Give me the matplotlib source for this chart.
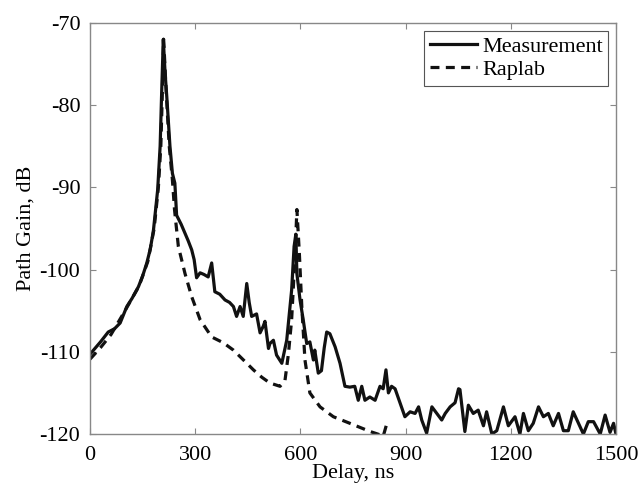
import matplotlib.pyplot as plt

# Measurement (solid)
meas_x = [0, 14, 30, 52, 70, 86, 105, 120, 138, 150, 162, 172, 181, 193, 200, 204, 209,
          214, 219, 228, 235, 242, 247, 260, 271, 280, 290, 297, 304, 314, 325, 337, 347,
          356, 370, 385, 398, 409, 418, 428, 437, 447, 454, 461, 475, 485, 494, 499, 509,
          513, 523, 532, 547, 561, 575, 582, 587, 590, 599, 608, 618, 627, 637, 641, 651,
          660, 668, 675, 684, 699, 713, 727, 741, 755, 765, 775, 784, 798, 813, 827, 836,
          844, 851, 860, 870, 884, 898, 913, 927, 937, 946, 960, 975, 989, 1003, 1013, 1027,
          1041, 1051, 1055, 1069, 1079, 1093, 1107, 1122, 1131, 1146, 1160, 1179, 1193, 1212,
          1226, 1236, 1250, 1264, 1279, 1293, 1307, 1321, 1336, 1350, 1364, 1378, 1393, 1407,
          1421, 1436, 1455, 1469, 1483, 1493, 1500]
meas_y = [-110.3, -109.6, -108.8, -107.6, -107.2, -106.5, -104.5, -103.5, -102.1, -100.8, -99.2, -97.5, -95.2, -90.3, -85.0, -79.0, -72.0,
          -76.0, -79.0, -85.0, -88.3, -89.5, -93.4, -94.5, -95.6, -96.5, -97.6, -98.8, -101.0, -100.4, -100.6, -100.9, -99.2,
          -102.7, -103.0, -103.7, -104.0, -104.5, -105.7, -104.5, -105.7, -101.7, -104.0, -105.7, -105.4, -107.7, -106.9, -106.3, -109.6,
          -109.0, -108.6, -110.4, -111.4, -108.6, -102.5, -97.2, -95.7, -100.5, -103.7, -106.1, -109.0, -108.8, -111.0, -109.8, -112.6,
          -112.3, -109.5, -107.6, -107.8, -109.4, -111.4, -114.2, -114.3, -114.2, -115.9, -114.2, -115.9, -115.5, -115.9, -114.2, -114.5,
          -112.2, -115.0, -114.2, -114.5, -116.2, -117.9, -117.3, -117.5, -116.7, -118.3, -119.9, -116.7, -117.5, -118.3, -117.5, -116.7,
          -116.2, -114.5, -114.6, -119.7, -116.5, -117.5, -117.1, -119.0, -117.3, -120.0, -119.6, -116.7, -119.0, -117.9,
          -120.0, -117.5, -119.6, -118.7, -116.7, -117.9, -117.5, -119.0, -117.5, -119.6, -119.6, -117.3, -118.7, -120.0,
          -118.5, -118.5, -120.0, -117.7, -119.8, -118.7, -120.0]

# Raplab (dashed)
rap_x = [0, 30, 60, 100, 140, 165, 183, 195, 202, 206, 210, 218, 226, 235, 241, 252, 271,
         290, 314, 347, 380, 409, 440, 466, 490, 513, 542, 556, 566, 575, 585, 590, 597,
         604, 613, 627, 656, 694, 741, 799, 827, 836, 846]
rap_y = [-110.9, -109.5, -107.9, -105.0, -102.0, -99.0, -95.0, -90.0, -85.0, -79.0, -72.0, -79.0, -85.0, -89.1, -92.7, -97.2, -100.5,
         -103.3, -106.1, -108.2, -108.9, -109.8, -111.1, -112.2, -113.1, -113.8, -114.2, -113.5, -110.2, -106.1, -98.0, -92.7, -98.0,
         -104.5, -111.0, -115.0, -116.7, -117.9, -118.7, -119.7, -120.1, -120.3, -118.8]

plt.rcParams['font.family'] = ['Liberation Serif', 'DejaVu Serif']
plt.rcParams['axes.unicode_minus'] = False

fig = plt.figure(figsize=(6.41, 4.86), dpi=100)
ax = fig.add_axes([0.1404, 0.107, 0.8206, 0.846])

ax.plot(meas_x, meas_y, color='#111111', lw=2.3, label='Measurement')
ax.plot(rap_x, rap_y, color='#111111', lw=2.3, ls=(0, (2.8, 2.0)), label='Raplab')

ax.set_xlim(0, 1500)
ax.set_ylim(-120, -70)
ax.set_xticks([0, 300, 600, 900, 1200, 1500])
ax.set_yticks([-120, -110, -100, -90, -80, -70])
ax.set_xlabel('Delay, ns', fontsize=16, labelpad=-1)
ax.set_ylabel('Path Gain, dB', fontsize=16, labelpad=3)

for sp in ax.spines.values():
    sp.set_color('#888888')
    sp.set_linewidth(1.0)
ax.tick_params(axis='both', direction='in', length=4, width=0.8, color='#888888',
               labelsize=16, top=True, right=True)
ax.tick_params(axis='x', pad=9)
ax.tick_params(axis='y', pad=7)

leg = ax.legend(loc='upper right', fontsize=16, handlelength=2.15, fancybox=False,
                framealpha=1, edgecolor='#555555', borderpad=0.25, labelspacing=0.12,
                handletextpad=0.2, borderaxespad=0.35)
leg.get_frame().set_linewidth(0.8)

plt.savefig('out.png', dpi=100)
